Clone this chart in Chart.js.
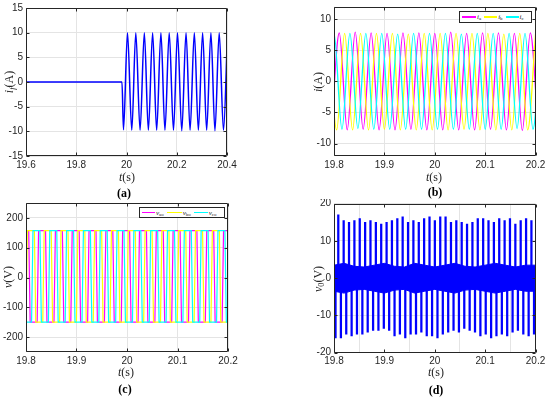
<!DOCTYPE html>
<html>
<head>
<meta charset="utf-8">
<script src="https://cdn.jsdelivr.net/npm/chart.js@4.4.1/dist/chart.umd.min.js"></script>
<style>
body{margin:0;background:#fff;width:550px;height:398px;position:relative;overflow:hidden;font-family:"Liberation Serif",serif;color:#262626;}
.panel{position:absolute;width:275px;height:199px;}
.lbl{position:absolute;transform:translate(-50%,-50%);white-space:nowrap;font-size:12px;}
.rot{transform:translate(-50%,-50%) rotate(-90deg);}
.cap{position:absolute;transform:translate(-50%,-50%);font-weight:bold;font-size:12px;color:#000;white-space:nowrap;}
i{font-style:italic}
sub{font-size:70%;vertical-align:-0.3em;line-height:0}
.legend{position:absolute;border:1px solid #262626;background:#fff;box-sizing:border-box;display:flex;align-items:center;padding:0 2px;font-size:7px;}
.legend .ln{display:inline-block;height:1.5px;margin-right:1px}
.legend .tx{margin-right:3px}
</style>
</head>
<body>
<canvas id="ca" class="panel" width="275" height="199" style="left:0;top:0"></canvas>
<canvas id="cb" class="panel" width="275" height="199" style="left:275px;top:0"></canvas>
<canvas id="cc" class="panel" width="275" height="199" style="left:0;top:199px"></canvas>
<canvas id="cd" class="panel" width="275" height="199" style="left:275px;top:199px"></canvas>

<div class="lbl rot" style="left:9px;top:82px"><i>i</i><sub><i>f</i></sub>(A)</div>
<div class="lbl" style="left:127px;top:177px"><i>t</i>(s)</div>
<div class="cap" style="left:124px;top:193px">(a)</div>

<div class="lbl rot" style="left:318px;top:82px"><i>i</i>(A)</div>
<div class="lbl" style="left:434px;top:177px"><i>t</i>(s)</div>
<div class="cap" style="left:435px;top:192px">(b)</div>

<div class="lbl rot" style="left:8px;top:277px"><i>v</i>(V)</div>
<div class="lbl" style="left:126px;top:372px"><i>t</i>(s)</div>
<div class="cap" style="left:125px;top:389px">(c)</div>

<div class="lbl rot" style="left:318px;top:279px"><i>v</i><sub>0</sub>(V)</div>
<div class="lbl" style="left:436px;top:372px"><i>t</i>(s)</div>
<div class="cap" style="left:436px;top:390px">(d)</div>

<div class="legend" style="left:459px;top:11px;width:73px;height:12px">
  <span class="ln" style="width:14px;background:#ff00ff"></span><span class="tx"><i>i</i><sub>a</sub></span>
  <span class="ln" style="width:13px;background:#ffff00"></span><span class="tx"><i>i</i><sub>b</sub></span>
  <span class="ln" style="width:13px;background:#00ffff"></span><span class="tx"><i>i</i><sub>c</sub></span>
</div>
<div class="legend" style="left:139px;top:207px;width:86px;height:11px">
  <span class="ln" style="width:13px;background:#ff00ff"></span><span class="tx"><i>v</i><sub>ao</sub></span>
  <span class="ln" style="width:15px;background:#ffff00"></span><span class="tx"><i>v</i><sub>bo</sub></span>
  <span class="ln" style="width:14px;background:#00ffff"></span><span class="tx"><i>v</i><sub>co</sub></span>
</div>

<script>
// ---- (a) fault current, turning points
const xTicksA = [19.6, 19.8, 20, 20.2, 20.4];
const yTicksA = [-15, -10, -5, 0, 5, 10, 15];
const tA = [19.6, 19.982, 19.988, 20.004, 20.021, 20.037, 20.054, 20.071, 20.087, 20.104, 20.120, 20.137,
  20.153, 20.170, 20.187, 20.203, 20.220, 20.237, 20.253, 20.270, 20.286, 20.303, 20.319, 20.336, 20.352,
  20.369, 20.386, 20.402];
const ifA = [0, 0, -9.7, 10, -9.8, 10, -9.8, 10, -9.8, 10, -9.8, 10, -9.8, 10, -9.8, 10, -9.9, 10, -9.8, 10,
  -9.8, 10, -9.8, 10, -9.9, 10, -9.8, 10];

// ---- (b) phase currents, peaks and troughs
const xTicksT = [19.8, 19.9, 20, 20.1, 20.2];
const yTicksB = [-10, -5, 0, 5, 10];
const tIa = [19.7947, 19.8105, 19.8263, 19.8421, 19.8579, 19.8737, 19.8895, 19.9053, 19.9211, 19.9369, 19.9527,
  19.9685, 19.9843, 20.0001, 20.0159, 20.0317, 20.0475, 20.0633, 20.0791, 20.0949, 20.1107, 20.1265, 20.1423,
  20.1581, 20.1739, 20.1897, 20.2055];
const ia = [-7.8, 7.8, -7.8, 7.9, -7.7, 7.8, -7.8, 7.7, -7.8, 7.8, -7.7, 7.8, -7.8, 7.7, -7.8, 7.9, -7.8, 7.7,
  -7.8, 7.8, -7.7, 7.8, -7.8, 7.7, -7.9, 7.8, -7.8];
const tIb = [19.7895, 19.8053, 19.8211, 19.8369, 19.8527, 19.8685, 19.8843, 19.9001, 19.9159, 19.9317, 19.9475,
  19.9633, 19.9791, 19.9949, 20.0107, 20.0265, 20.0423, 20.0581, 20.0739, 20.0897, 20.1055, 20.1213, 20.1371,
  20.1529, 20.1687, 20.1845, 20.2003];
const ib = [7.7, -7.8, 7.7, -7.8, 7.7, -7.8, 7.7, -7.7, 7.7, -7.8, 7.6, -7.8, 7.7, -7.8, 7.7, -7.8, 7.7, -7.7,
  7.7, -7.8, 7.7, -7.8, 7.6, -7.8, 7.7, -7.8, 7.7];
const tIc = [19.7842, 19.8000, 19.8158, 19.8316, 19.8474, 19.8632, 19.8790, 19.8948, 19.9106, 19.9264, 19.9422,
  19.9580, 19.9738, 19.9896, 20.0054, 20.0212, 20.0370, 20.0528, 20.0686, 20.0844, 20.1002, 20.1160, 20.1318,
  20.1476, 20.1634, 20.1792, 20.1950, 20.2108];
const ic = [-7.7, 7.7, -7.7, 7.7, -7.6, 7.7, -7.7, 7.7, -7.7, 7.6, -7.7, 7.7, -7.7, 7.7, -7.7, 7.7, -7.7, 7.6,
  -7.7, 7.7, -7.7, 7.7, -7.7, 7.7, -7.6, 7.7, -7.7, 7.7];

// ---- (c) pole voltages, switching instants
const yTicksC = [-200, -100, 0, 100, 200];
const vHigh = 157, vLow = -150;
const vaoEdges = [19.8068, 19.8235, 19.8401, 19.8568, 19.8734, 19.8901, 19.9067, 19.9234, 19.9400, 19.9567,
  19.9733, 19.9900, 20.0066, 20.0233, 20.0399, 20.0566, 20.0732, 20.0899, 20.1065, 20.1232, 20.1398, 20.1565,
  20.1731, 20.1898, 20.2064];
const vboEdges = [19.8013, 19.8180, 19.8346, 19.8513, 19.8679, 19.8846, 19.9012, 19.9179, 19.9345, 19.9512,
  19.9678, 19.9845, 20.0011, 20.0178, 20.0344, 20.0511, 20.0677, 20.0844, 20.1010, 20.1177, 20.1343, 20.1510,
  20.1676, 20.1843, 20.2009];
const vcoEdges = [19.8124, 19.8290, 19.8457, 19.8623, 19.8790, 19.8956, 19.9123, 19.9289, 19.9456, 19.9622,
  19.9789, 19.9955, 20.0122, 20.0288, 20.0455, 20.0621, 20.0788, 20.0954, 20.1121, 20.1287, 20.1454, 20.1620,
  20.1787, 20.1953];
const vaoStart = vHigh, vboStart = vLow, vcoStart = vLow;

// ---- (d) neutral voltage: ripple band envelope and spikes
const yTicksD = [-20, -10, 0, 10, 20];
const tBand = [19.80, 19.82, 19.84, 19.86, 19.88, 19.90, 19.92, 19.94, 19.96, 19.98, 20.00, 20.02, 20.04, 20.06,
  20.08, 20.10, 20.12, 20.14, 20.16, 20.18, 20.20];
const bandHi = [3.5, 4, 3.2, 3, 3.5, 4, 3.2, 3, 4, 3.5, 3, 3.5, 4, 3.2, 3, 3.5, 4, 3.5, 3, 3.5, 3.5];
const bandLo = [-3.5, -4, -3.2, -3, -3.5, -4, -3.2, -3, -4, -3.5, -3, -3.5, -4, -3.2, -3, -3.5, -4, -3.5, -3, -3.5, -3.5];
const tSpikeUp = [19.8085, 19.8192, 19.8298, 19.8405, 19.8511, 19.8618, 19.8724, 19.8831, 19.8937, 19.9044,
  19.9150, 19.9257, 19.9363, 19.9470, 19.9576, 19.9683, 19.9789, 19.9896, 20.0002, 20.0109, 20.0215, 20.0322,
  20.0428, 20.0535, 20.0641, 20.0748, 20.0854, 20.0961, 20.1067, 20.1174, 20.1280, 20.1387, 20.1493, 20.1600,
  20.1706, 20.1813, 20.1919];
const spikeUp = [17, 15.5, 15, 15.5, 16, 15, 15.5, 15, 14.5, 15, 15.5, 16, 16.5, 15, 15.5, 15, 16, 16.5, 15.5,
  16.5, 16.5, 15, 15.5, 15, 14.5, 15, 16, 16, 15.5, 15, 16, 15.5, 16, 14.5, 15.5, 16, 15.5];
const tSpikeDown = [19.8030, 19.8137, 19.8243, 19.8350, 19.8456, 19.8563, 19.8669, 19.8776, 19.8882, 19.8989,
  19.9095, 19.9202, 19.9308, 19.9415, 19.9521, 19.9628, 19.9734, 19.9841, 19.9947, 20.0054, 20.0160, 20.0267,
  20.0373, 20.0480, 20.0586, 20.0693, 20.0799, 20.0906, 20.1012, 20.1119, 20.1225, 20.1332, 20.1438, 20.1545,
  20.1651, 20.1758, 20.1864, 20.1971];
const spikeDown = [-16, -16, -15, -15.5, -15, -15, -14.5, -14, -14, -13.5, -14, -15.5, -15, -16, -15, -15, -14.5,
  -15.5, -15.5, -16, -15, -14.5, -14, -14.5, -13.5, -14, -14.5, -15.5, -15, -16, -15.5, -15, -15.5, -14.5, -14,
  -15, -15.5, -15];

Chart.defaults.font.family = "'Liberation Sans', Arial, sans-serif";
Chart.defaults.font.size = 10;
Chart.defaults.color = '#262626';
Chart.defaults.animation = false;
Chart.defaults.events = [];
Chart.defaults.plugins.legend.display = false;
Chart.defaults.plugins.tooltip.enabled = false;
Chart.defaults.elements.point.radius = 0;

function pts(ts, vs) {
  return ts.map((t, i) => ({x: t, y: vs[i]}));
}

// square wave points from switching instants (sloped edge at every switching)
function square(edges, start) {
  const ramp = 0.0028;
  let lvl = start;
  const out = [{x: 19.7, y: lvl}];
  edges.forEach(e => {
    const next = lvl === vHigh ? vLow : vHigh;
    out.push({x: e - ramp / 2, y: lvl}, {x: e + ramp / 2, y: next});
    lvl = next;
  });
  out.push({x: 20.3, y: lvl});
  return out;
}

// MATLAB-like box with inward ticks
const frame = {
  id: 'frame',
  afterDatasetsDraw(chart) {
    const {ctx, chartArea: a, scales: {x, y}} = chart;
    const L = Math.round(a.left) + 0.5, R = Math.round(a.right) - 0.5;
    const T = Math.round(a.top) + 0.5, B = Math.round(a.bottom) - 0.5;
    ctx.save();
    ctx.strokeStyle = '#262626';
    ctx.lineWidth = 1;
    ctx.beginPath();
    ctx.rect(L, T, R - L, B - T);
    x.ticks.forEach(t => {
      const p = Math.round(x.getPixelForValue(t.value)) + 0.5;
      ctx.moveTo(p, B); ctx.lineTo(p, B - 3);
      ctx.moveTo(p, T); ctx.lineTo(p, T + 3);
    });
    y.ticks.forEach(t => {
      const p = Math.round(y.getPixelForValue(t.value)) + 0.5;
      ctx.moveTo(L, p); ctx.lineTo(L + 3, p);
      ctx.moveTo(R, p); ctx.lineTo(R - 3, p);
    });
    ctx.stroke();
    ctx.restore();
  }
};

function scales(xMin, xMax, xTicks, yMin, yMax, yTicks, yW) {
  const grid = {color: '#e4e4e4', drawTicks: false, lineWidth: 1};
  return {
    x: {
      type: 'linear', min: xMin, max: xMax, offset: false, grid: grid, border: {display: false},
      ticks: {padding: 3, maxRotation: 0, autoSkip: false, callback: v => String(+v.toFixed(2))},
      afterBuildTicks: s => { s.ticks = xTicks.map(v => ({value: v})); },
      afterFit: s => { s.height = 20; s.paddingLeft = 0; s.paddingRight = 0; }
    },
    y: {
      type: 'linear', min: yMin, max: yMax, grid: grid, border: {display: false},
      ticks: {padding: 3, autoSkip: false},
      afterBuildTicks: s => { s.ticks = yTicks.map(v => ({value: v})); },
      afterFit: s => { s.width = yW; s.paddingTop = 0; s.paddingBottom = 0; }
    }
  };
}

function make(id, type, datasets, sc, pad) {
  return new Chart(document.getElementById(id), {
    type: type,
    data: {datasets: datasets},
    options: {responsive: false, layout: {padding: pad}, scales: sc},
    plugins: [frame]
  });
}

// (a)
make('ca', 'line', [
  {data: pts(tA, ifA), borderColor: '#0000ff', borderWidth: 1.5, cubicInterpolationMode: 'monotone'}
], scales(19.6, 20.4, xTicksA, -15, 15, yTicksA, 26), {left: 0, right: 48, top: 8, bottom: 23});

// (b)
make('cb', 'line', [
  {data: pts(tIc, ic), borderColor: '#00ffff', borderWidth: 1.3, cubicInterpolationMode: 'monotone'},
  {data: pts(tIb, ib), borderColor: '#ffff00', borderWidth: 1.3, cubicInterpolationMode: 'monotone'},
  {data: pts(tIa, ia), borderColor: '#ff00ff', borderWidth: 1.3, cubicInterpolationMode: 'monotone'}
], scales(19.8, 20.2, xTicksT, -12, 12, yTicksB, 59), {left: 0, right: 14.5, top: 6.7, bottom: 23});

// (c)
make('cc', 'line', [
  {data: square(vcoEdges, vcoStart), borderColor: '#00ffff', borderWidth: 1.2, tension: 0},
  {data: square(vboEdges, vboStart), borderColor: '#ffff00', borderWidth: 1.2, tension: 0},
  {data: square(vaoEdges, vaoStart), borderColor: '#ff00ff', borderWidth: 1.2, tension: 0}
], scales(19.8, 20.2, xTicksT, -250, 250, yTicksC, 26), {left: 0, right: 47, top: 4, bottom: 26});

// (d)
make('cd', 'bar', [
  {type: 'line', data: pts(tBand, bandHi), borderColor: '#0000ff', backgroundColor: '#0000ff', borderWidth: 1, fill: '+1'},
  {type: 'line', data: pts(tBand, bandLo), borderColor: '#0000ff', borderWidth: 1, fill: false},
  {data: tSpikeUp.map((t, i) => ({x: t, y: [-2, spikeUp[i]]})), backgroundColor: '#0000ff', barThickness: 1.6, grouped: false},
  {data: tSpikeDown.map((t, i) => ({x: t, y: [2, spikeDown[i]]})), backgroundColor: '#0000ff', barThickness: 1.6, grouped: false}
], scales(19.8, 20.2, xTicksT, -20, 20, yTicksD, 59), {left: 0, right: 14.5, top: 4.7, bottom: 25.3});
</script>
</body>
</html>
